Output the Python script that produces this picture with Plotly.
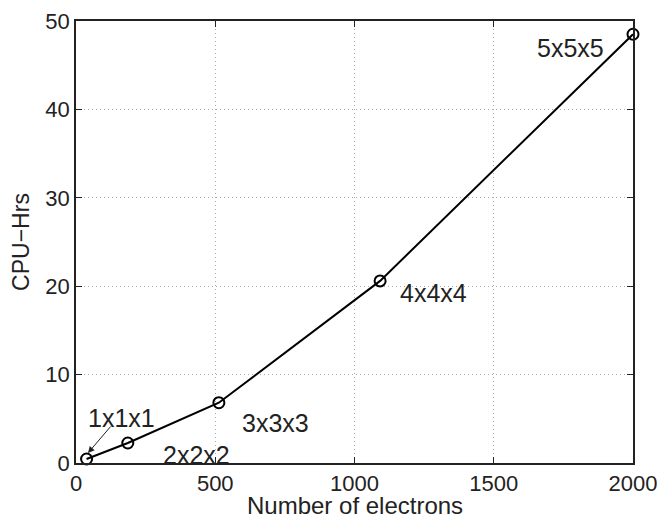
import plotly.graph_objects as go

electrons = [38, 186, 513, 1092, 2000]
cpu_hrs = [0.45, 2.26, 6.82, 20.6, 48.5]
labels = ["1x1x1", "2x2x2", "3x3x3", "4x4x4", "5x5x5"]
label_x = [164, 434, 715, 1282, 1777]
label_y = [5.1, 0.9, 4.5, 19.2, 46.9]
x_ticks = [0, 500, 1000, 1500, 2000]
y_ticks = [0, 10, 20, 30, 40, 50]

FONT = "Liberation Sans, Arial, Helvetica, sans-serif"

fig = go.Figure()
fig.add_trace(go.Scatter(
    x=electrons, y=cpu_hrs, mode="lines+markers",
    line=dict(color="black", width=2),
    marker=dict(symbol="circle-open", size=11, color="black", line=dict(width=2)),
    showlegend=False, cliponaxis=False,
))

annotations = []
for lx, ly, t in zip(label_x, label_y, labels):
    annotations.append(dict(x=lx, y=ly, text=t, showarrow=False,
                            font=dict(family=FONT, size=25, color="#222")))
# arrow from 1x1x1 label to first point
annotations.append(dict(x=43, y=1.13, ax=129, ay=4.3, axref="x", ayref="y",
                        xref="x", yref="y", text="", showarrow=True,
                        arrowhead=2, arrowsize=1.3, arrowwidth=1, arrowcolor="#222"))
# x-axis title placed just under the tick labels
annotations.append(dict(x=0.5, y=-55 / 442, xref="paper", yref="paper",
                        xanchor="center", yanchor="bottom", yshift=-3,
                        text="Number of electrons", showarrow=False,
                        font=dict(family=FONT, size=24, color="#222")))

axis_common = dict(
    showline=True, linecolor="#222", linewidth=1.5, mirror="ticks",
    ticks="inside", ticklen=6, tickcolor="#222",
    showgrid=True, gridcolor="#aaa", griddash="1px,3px", gridwidth=1,
    zeroline=False, tickfont=dict(family=FONT, size=22, color="#222"),
    automargin=False, ticklabeloverflow="allow",
)

# page body has an 8px margin, so the figure is shrunk and offset accordingly
fig.update_layout(
    width=657, height=510,
    margin=dict(l=68, r=32, t=13, b=55),
    paper_bgcolor="white", plot_bgcolor="white",
    xaxis=dict(range=[0, 2000], tickvals=x_ticks, **axis_common),
    yaxis=dict(range=[0, 50], tickvals=y_ticks,
               title=dict(text="CPU\u2212Hrs", standoff=12,
                          font=dict(family=FONT, size=23, color="#222")),
               **axis_common),
    annotations=annotations,
)

fig.write_html("out.html")
